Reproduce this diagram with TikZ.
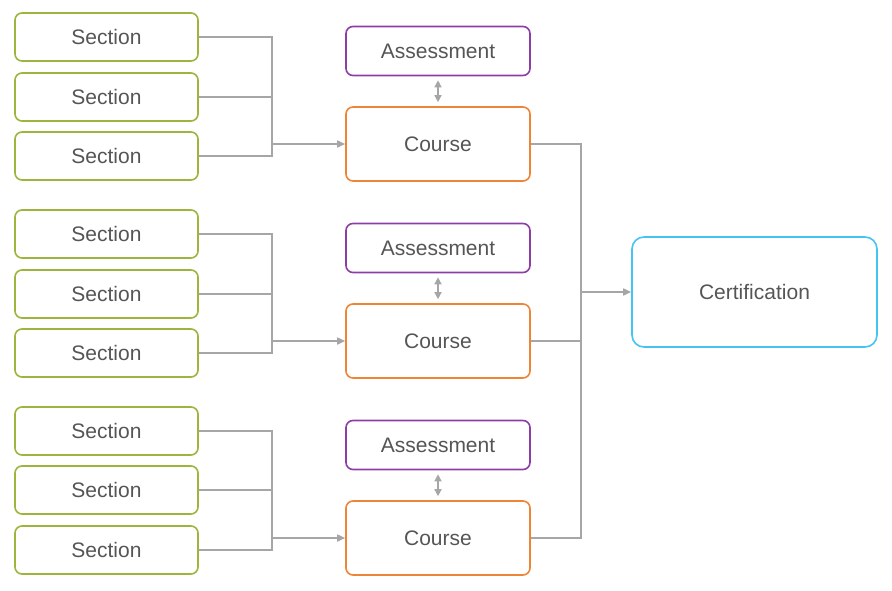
\documentclass[tikz,border=0pt]{standalone}
\usepackage{fontspec}
\setmainfont{Liberation Sans}
\usetikzlibrary{arrows.meta}
\definecolor{sg}{HTML}{9CB53C}
\definecolor{ap}{HTML}{8E3DA6}
\definecolor{co}{HTML}{EE8436}
\definecolor{cb}{HTML}{45C3F2}
\definecolor{ln}{HTML}{A6A6A6}
\definecolor{tx}{HTML}{555555}
\begin{document}
\begin{tikzpicture}[x=1pt,y=-1pt,
 box/.style={draw,line width=1.6pt,rounded corners=7pt,text=tx,font=\fontsize{21}{24}\selectfont,inner sep=0pt},
 sec/.style={box,draw=sg,minimum width=183pt,minimum height=48pt},
 asm/.style={box,draw=ap,minimum width=184pt,minimum height=49pt},
 crs/.style={box,draw=co,minimum width=184pt,minimum height=74pt},
 cert/.style={box,draw=cb,minimum width=245pt,minimum height=110pt,rounded corners=12pt},
 ln/.style={draw=ln,line width=1.6pt},
 arr/.style={ln,-{Triangle[length=8pt,width=7pt]}},
 darr/.style={ln,line width=1.4pt,{Triangle[length=7pt,width=7pt]}-{Triangle[length=7pt,width=7pt]}}]
\useasboundingbox (0,0) rectangle (892,590);
\foreach \g/\ya/\yb/\yc/\yas/\yco in {1/37/97/156/51/144, 2/234/294/353/248/341, 3/431/490/550/445/538}{
  \node[sec] (s\g a) at (106.5,\ya) {Section};
  \node[sec] (s\g b) at (106.5,\yb) {Section};
  \node[sec] (s\g c) at (106.5,\yc) {Section};
  \node[asm] (a\g) at (438,\yas) {Assessment};
  \node[crs] (c\g) at (438,\yco) {Course};
  \coordinate (j\g) at (272,\yco);
  \draw[ln] (s\g a.east) -| (272,\yc) -- (s\g c.east);
  \draw[ln] (s\g b.east) -- (272,\yb);
  \draw[arr] (j\g) -- (c\g.west);
  \draw[darr] ([yshift=-4pt]a\g.south) -- ([yshift=4pt]c\g.north);
}
\node[cert] (cert) at (754.5,292) {Certification};
\coordinate (k) at (581,292);
\draw[ln] (c1.east) -| (581,538) -- (c3.east);
\draw[ln] (c2.east) -- (581,341);
\draw[arr] (k) -- (cert.west);
\end{tikzpicture}
\end{document}
